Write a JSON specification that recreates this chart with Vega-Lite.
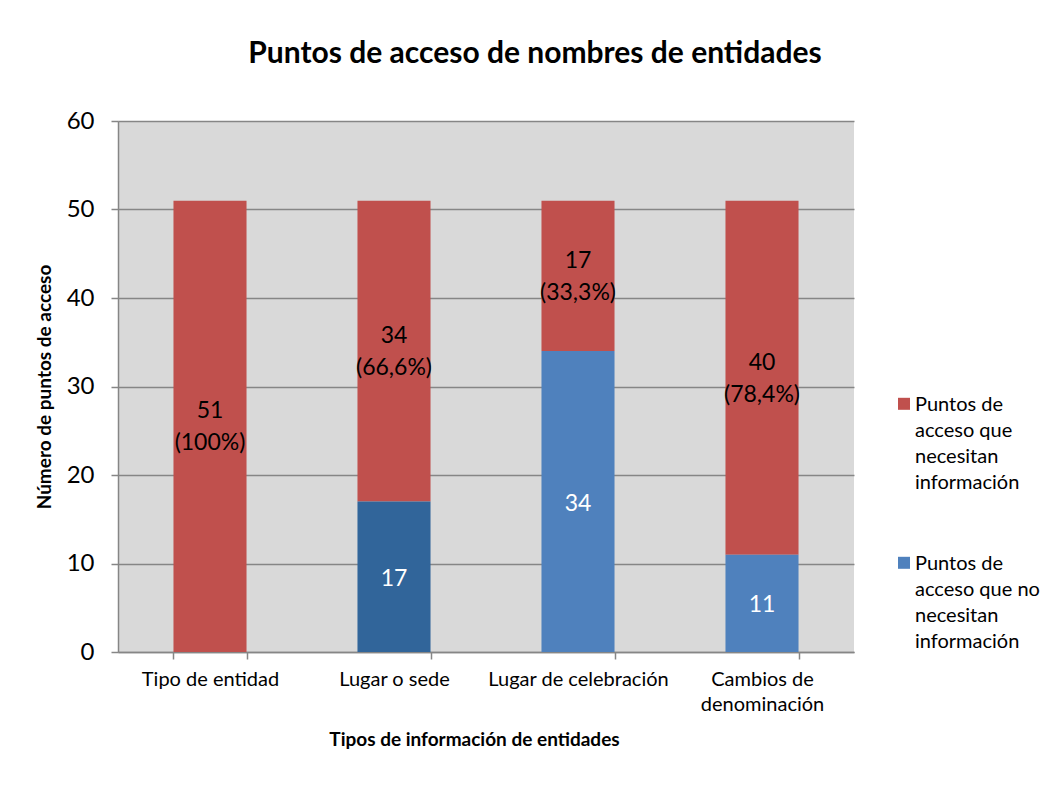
{
  "$schema": "https://vega.github.io/schema/vega-lite/v6.json",
  "width": 736,
  "height": 531,
  "autosize": {"type": "none"},
  "padding": {"left": 118, "top": 121, "right": 194, "bottom": 150},
  "background": "white",
  "config": {
    "font": "Lato",
    "view": {"fill": "#D9D9D9", "stroke": null},
    "style": {"guide-label": {"lineHeight": 26}}
  },
  "title": {
    "text": "Puntos de acceso de nombres de entidades",
    "fontSize": 30,
    "fontWeight": "bold",
    "color": "#000000",
    "anchor": "middle",
    "baseline": "alphabetic",
    "offset": 16,
    "dx": 49
  },
  "data": {
    "values": [
      {"tipo": "Tipo de entidad", "serie": "Puntos de acceso que necesitan información", "valor": 51, "pct": "(100%)"},
      {"tipo": "Tipo de entidad", "serie": "Puntos de acceso que no necesitan información", "valor": 0, "pct": ""},
      {"tipo": "Lugar o sede", "serie": "Puntos de acceso que necesitan información", "valor": 34, "pct": "(66,6%)"},
      {"tipo": "Lugar o sede", "serie": "Puntos de acceso que no necesitan información", "valor": 17, "pct": ""},
      {"tipo": "Lugar de celebración", "serie": "Puntos de acceso que necesitan información", "valor": 17, "pct": "(33,3%)"},
      {"tipo": "Lugar de celebración", "serie": "Puntos de acceso que no necesitan información", "valor": 34, "pct": ""},
      {"tipo": "Cambios de denominación", "serie": "Puntos de acceso que necesitan información", "valor": 40, "pct": "(78,4%)"},
      {"tipo": "Cambios de denominación", "serie": "Puntos de acceso que no necesitan información", "valor": 11, "pct": ""}
    ]
  },
  "encoding": {
    "x": {
      "field": "tipo",
      "type": "nominal",
      "sort": ["Tipo de entidad", "Lugar o sede", "Lugar de celebración", "Cambios de denominación"],
      "scale": {"paddingInner": 0.603, "paddingOuter": 0.3015},
      "axis": {
        "title": "Tipos de información de entidades",
        "titleFontSize": 19,
        "titleFontWeight": "bold",
        "titleColor": "#000000",
        "titlePadding": 16,
        "titleX": 356,
        "labelAngle": 0,
        "labelFontSize": 20,
        "labelColor": "#000000",
        "labelPadding": 10,
        "labelLimit": 300,
        "labelLineHeight": 25,
        "labelExpr": "datum.label === 'Cambios de denominación' ? ['Cambios de', 'denominación'] : datum.label",
        "tickBand": "extent",
        "tickSize": 7,
        "tickColor": "#868686",
        "tickWidth": 1.5,
        "domainColor": "#868686",
        "domainWidth": 1.5,
        "grid": false
      }
    }
  },
  "layer": [
    {
      "mark": {"type": "bar"},
      "encoding": {
        "y": {
          "field": "valor",
          "type": "quantitative",
          "stack": "zero",
          "scale": {"domain": [0, 60]},
          "axis": {
            "title": "Número de puntos de acceso",
            "titleFontSize": 19,
            "titleFontWeight": "bold",
            "titleColor": "#000000",
            "titlePadding": 12,
            "values": [0, 10, 20, 30, 40, 50, 60],
            "labelFontSize": 24,
            "labelColor": "#000000",
            "labelPadding": 17,
            "tickSize": 7,
            "tickColor": "#868686",
            "tickWidth": 1.5,
            "domainColor": "#868686",
            "domainWidth": 1.5,
            "grid": true,
            "gridColor": "#868686",
            "gridWidth": 1.5
          }
        },
        "color": {
          "field": "serie",
          "type": "nominal",
          "condition": {
            "test": "datum.tipo === 'Lugar o sede' && datum.serie === 'Puntos de acceso que no necesitan información'",
            "value": "#31659A"
          },
          "scale": {
            "domain": ["Puntos de acceso que necesitan información", "Puntos de acceso que no necesitan información"],
            "range": ["#C0504D", "#4F81BD"]
          },
          "legend": {
            "title": null,
            "orient": "none",
            "legendX": 776,
            "legendY": 280,
            "symbolType": "M-1,-2.2H1V-0.2H-1Z",
            "symbolSize": 144,
            "symbolStrokeWidth": 0,
            "labelFontSize": 20,
            "labelColor": "#000000",
            "labelBaseline": "alphabetic",
            "labelOffset": 1,
            "labelLimit": 200,
            "rowPadding": 61,
            "labelExpr": "datum.label === 'Puntos de acceso que necesitan información' ? ['Puntos de', 'acceso que', 'necesitan', 'información'] : ['Puntos de', 'acceso que no', 'necesitan', 'información']"
          }
        },
        "order": {"field": "serie", "sort": "descending"}
      }
    },
    {
      "transform": [
        {"stack": "valor", "groupby": ["tipo"], "sort": [{"field": "serie", "order": "descending"}], "as": ["v0", "v1"]},
        {"calculate": "(datum.v0 + datum.v1) / 2", "as": "medio"},
        {"filter": "datum.valor > 0"}
      ],
      "mark": {
        "type": "text",
        "fontSize": 23,
        "baseline": "middle",
        "align": "center",
        "lineHeight": 32,
        "dy": {"expr": "datum.serie === 'Puntos de acceso que necesitan información' ? -15 : 2"},
        "text": {"expr": "datum.serie === 'Puntos de acceso que necesitan información' ? [datum.valor + '', datum.pct] : datum.valor + ''"}
      },
      "encoding": {
        "y": {"field": "medio", "type": "quantitative", "scale": {"domain": [0, 60]}},
        "color": {
          "condition": {"test": "datum.serie === 'Puntos de acceso que necesitan información'", "value": "#000000"},
          "value": "#FFFFFF"
        }
      }
    }
  ]
}
